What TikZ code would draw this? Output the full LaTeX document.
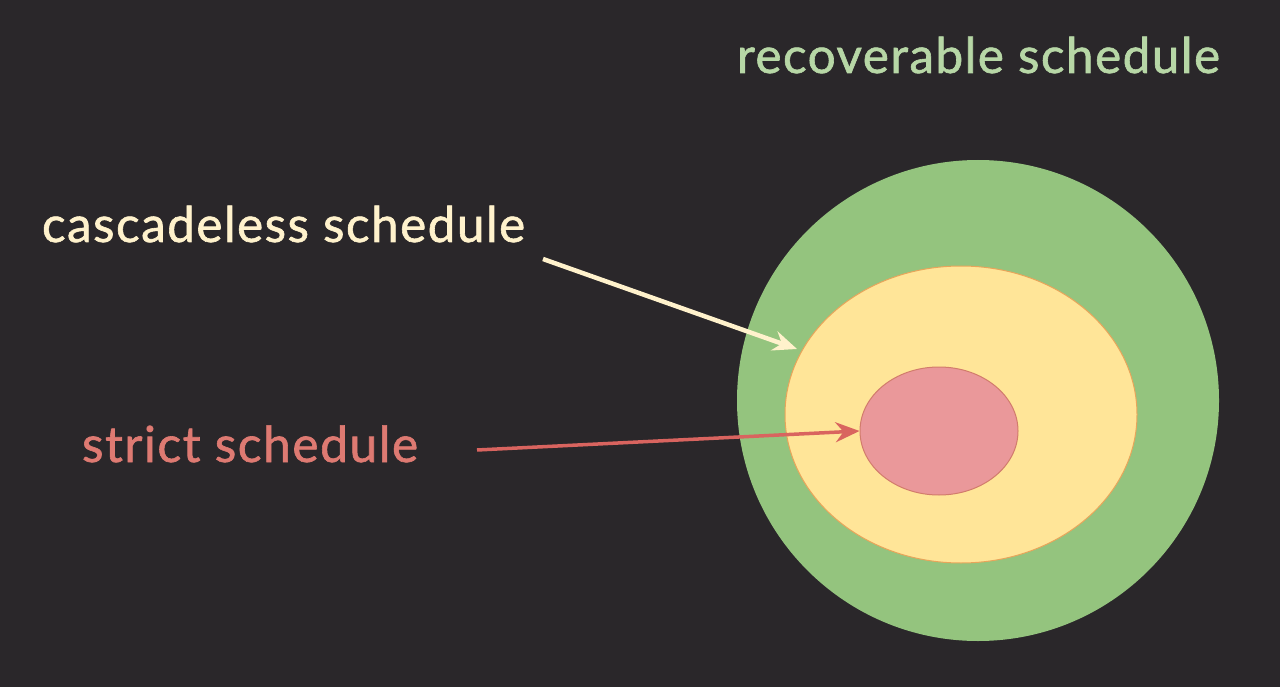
\documentclass[tikz,border=0pt]{standalone}
\usepackage{fontspec}
\setmainfont{Lato}[LetterSpace=3,FakeBold=1.2]
\usetikzlibrary{arrows.meta,shapes.geometric}
\definecolor{bg}{HTML}{2A272A}
\definecolor{greenfill}{HTML}{94C47E}
\definecolor{yellowfill}{HTML}{FFE598}
\definecolor{yellowline}{HTML}{E8A55A}
\definecolor{redfill}{HTML}{EA989A}
\definecolor{redline}{HTML}{D27C6C}
\definecolor{greentext}{HTML}{B7D7A6}
\definecolor{yellowtext}{HTML}{FFF2CC}
\definecolor{redtext}{HTML}{DE7A72}
\definecolor{redarrow}{HTML}{D9645F}
\begin{document}
\begin{tikzpicture}[x=1pt,y=-1pt,
  txt/.style={inner sep=0pt,outer sep=0pt,anchor=base west},
  pointer/.style={line width=4.5pt,-{Stealth[length=24pt,width=20pt,inset=8pt]}}]
\fill[bg] (0,0) rectangle (1280,687);
\useasboundingbox (0,0) rectangle (1280,687);
\fill[greenfill] (978,400.5) ellipse [x radius=241,y radius=240.5];
\node[draw=yellowline,line width=1pt,fill=yellowfill,ellipse,minimum width=352pt,minimum height=297pt,inner sep=0pt] (casc) at (961,414.5) {};
\node[draw=redline,line width=1pt,fill=redfill,ellipse,minimum width=158pt,minimum height=128pt,inner sep=0pt] (strict) at (939,431) {};
\node[txt,text=greentext] (rec) at (737,73) {\resizebox{483pt}{!}{recoverable schedule}};
\node[txt,text=yellowtext] (casct) at (42,242) {\resizebox{483pt}{!}{cascadeless schedule}};
\node[txt,text=redtext] (strictt) at (82,462) {\resizebox{336pt}{!}{strict schedule}};
\coordinate (a1) at (543,259);
\coordinate (a2) at (797,349);
\coordinate (b1) at (477,450);
\draw[pointer,draw=yellowtext,fill=yellowtext] (a1) -- (a2);
\draw[pointer,line width=3.5pt,draw=redarrow,fill=redarrow] (b1) -- (strict.west);
\end{tikzpicture}
\end{document}
